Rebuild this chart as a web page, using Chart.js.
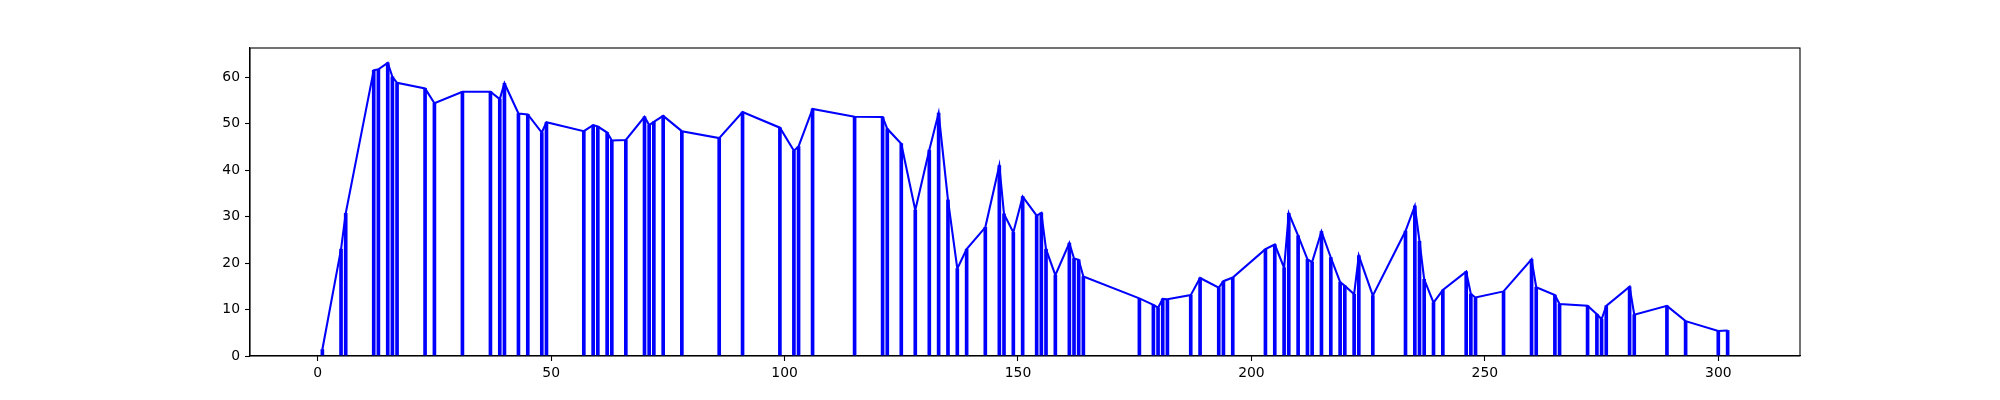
<!DOCTYPE html>
<html>
<head>
<meta charset="utf-8">
<script src="https://cdn.jsdelivr.net/npm/chart.js@4.4.1/dist/chart.umd.min.js"></script>
<style>
html,body{margin:0;padding:0;background:#fff;}
#wrap{width:2000px;height:400px;}
</style>
</head>
<body>
<div id="wrap"><canvas id="c" width="2000" height="400" style="width:2000px;height:400px"></canvas></div>
<script>
const xs = [1,5,6,12,13,15,16,17,23,25,31,37,39,40,43,45,48,49,57,59,60,62,63,66,70,71,72,74,78,86,91,99,102,103,106,115,121,122,125,128,131,133,135,137,139,143,146,147,149,151,154,155,156,158,161,162,163,164,176,179,180,181,182,187,189,193,194,196,203,205,207,208,210,212,213,215,217,219,220,222,223,226,233,235,236,237,239,241,246,247,248,254,260,261,265,266,272,274,275,276,281,282,289,293,300,302];
const ys = [1.4,23.0,30.7,61.5,61.7,63.1,60.1,58.8,57.6,54.4,56.9,56.9,55.3,58.7,52.2,52.0,48.1,50.3,48.4,49.7,49.4,48.1,46.4,46.5,51.5,49.7,50.4,51.7,48.4,46.9,52.5,49.15,44.2,45.1,53.2,51.5,51.45,48.9,45.7,31.4,44.35,52.3,33.6,18.8,23.0,27.7,41.0,30.6,26.6,34.3,30.2,30.8,23.0,17.4,24.3,21.0,20.7,17.1,12.4,11.0,10.4,12.3,12.2,13.1,16.8,14.7,16.1,16.9,23.0,24.0,19.0,30.7,25.9,20.8,20.2,26.8,21.2,15.9,15.1,13.3,21.6,13.0,26.9,32.3,24.7,16.5,11.5,14.2,18.15,13.35,12.6,13.9,20.8,14.8,13.1,11.2,10.8,9.0,7.9,10.8,14.9,8.9,10.8,7.5,5.4,5.5];
const xTicks = [0,50,100,150,200,250,300];
const yTicks = [0,10,20,30,40,50,60];

const pts = xs.map((x,i)=>({x:x, y:ys[i]}));

const frame = {
  id:'frame',
  afterDraw(chart){
    const a = chart.chartArea, ctx = chart.ctx;
    ctx.save();
    ctx.strokeStyle = '#000';
    ctx.lineWidth = 1.1;
    ctx.strokeRect(a.left, a.top, a.right-a.left, a.bottom-a.top);
    ctx.restore();
  }
};

const font = {family:'"DejaVu Sans", sans-serif', size:13.9};

new Chart(document.getElementById('c'), {
  type:'bar',
  data:{
    datasets:[
      {type:'line', data:pts, borderColor:'#0000ff', borderWidth:2.08, pointRadius:0, tension:0, fill:false, order:0},
      {type:'bar', data:pts, backgroundColor:'#0000ff', borderWidth:0, barThickness:3, order:1}
    ]
  },
  options:{
    responsive:false,
    animation:false,
    devicePixelRatio:1,
    layout:{padding:{top:48, right:200, left:0, bottom:0}},
    plugins:{legend:{display:false}, tooltip:{enabled:false}},
    scales:{
      x:{
        type:'linear', min:-14.5, max:317.5, offset:false,
        afterBuildTicks(s){ s.ticks = xTicks.map(v=>({value:v})); },
        afterFit(s){ s.height = 44; },
        grid:{drawOnChartArea:false, drawTicks:true, tickLength:5, tickColor:'#000', tickWidth:1.1, offset:false},
        border:{display:true, color:'#000', width:1.1},
        ticks:{color:'#000', font:font, padding:4, maxRotation:0, autoSkip:false}
      },
      y:{
        type:'linear', min:0, max:66.3,
        afterBuildTicks(s){ s.ticks = yTicks.map(v=>({value:v})); },
        afterFit(s){ s.width = 250; },
        grid:{drawOnChartArea:false, drawTicks:true, tickLength:5, tickColor:'#000', tickWidth:1.1},
        border:{display:true, color:'#000', width:1.1},
        ticks:{color:'#000', font:font, padding:5}
      }
    }
  },
  plugins:[frame]
});
</script>
</body>
</html>
